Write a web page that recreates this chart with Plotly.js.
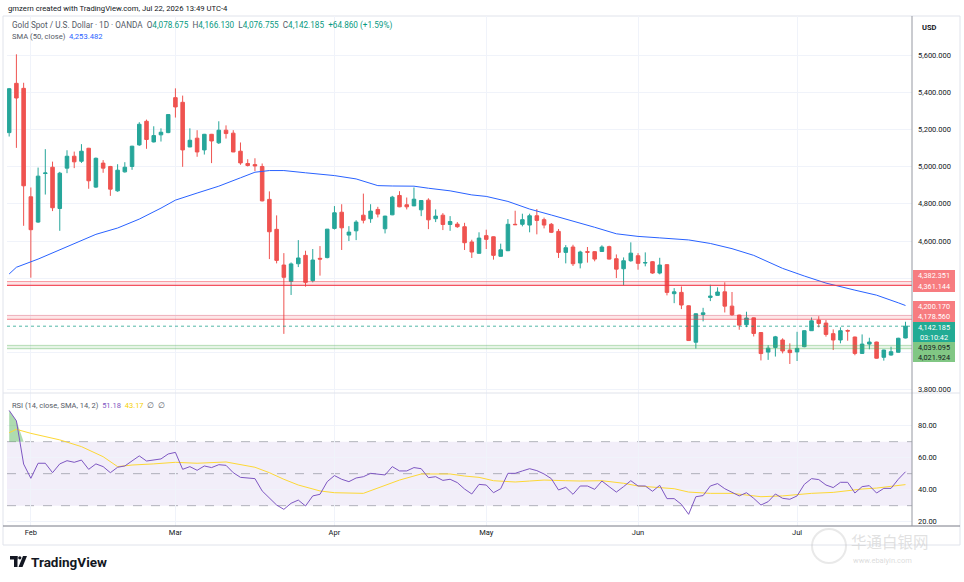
<!DOCTYPE html>
<html>
<head>
<meta charset="utf-8">
<script src="https://cdn.plot.ly/plotly-3.0.1.min.js"></script>
<style>html,body{margin:0;padding:0;background:#fff;}#chart{width:964px;height:582px;}</style>
</head>
<body>
<div id="chart"></div>
<script>
// ---------- DATA ----------
const dates = [
'2026-01-28','2026-01-29','2026-01-30',
'2026-02-02','2026-02-03','2026-02-04','2026-02-05','2026-02-06','2026-02-09','2026-02-10','2026-02-11','2026-02-12','2026-02-13',
'2026-02-16','2026-02-17','2026-02-18','2026-02-19','2026-02-20','2026-02-23','2026-02-24','2026-02-25','2026-02-26','2026-02-27',
'2026-03-02','2026-03-03','2026-03-04','2026-03-05','2026-03-06','2026-03-09','2026-03-10','2026-03-11','2026-03-12','2026-03-13',
'2026-03-16','2026-03-17','2026-03-18','2026-03-19','2026-03-20','2026-03-23','2026-03-24','2026-03-25','2026-03-26','2026-03-27',
'2026-03-30','2026-03-31',
'2026-04-01','2026-04-02','2026-04-06','2026-04-07','2026-04-08','2026-04-09','2026-04-10','2026-04-13','2026-04-14','2026-04-15',
'2026-04-16','2026-04-17','2026-04-20','2026-04-21','2026-04-22','2026-04-23','2026-04-24','2026-04-27','2026-04-28','2026-04-29','2026-04-30',
'2026-05-01','2026-05-04','2026-05-05','2026-05-06','2026-05-07','2026-05-08','2026-05-11','2026-05-12','2026-05-13','2026-05-14','2026-05-15',
'2026-05-18','2026-05-19','2026-05-20','2026-05-21','2026-05-22','2026-05-25','2026-05-26','2026-05-27','2026-05-28','2026-05-29',
'2026-06-01','2026-06-02','2026-06-03','2026-06-04','2026-06-05','2026-06-08','2026-06-09','2026-06-10','2026-06-11','2026-06-12',
'2026-06-15','2026-06-16','2026-06-17','2026-06-18','2026-06-19','2026-06-22','2026-06-23','2026-06-24','2026-06-25','2026-06-26',
'2026-06-29','2026-06-30',
'2026-07-01','2026-07-02','2026-07-03','2026-07-06','2026-07-07','2026-07-08','2026-07-09','2026-07-10','2026-07-13','2026-07-14',
'2026-07-15','2026-07-16','2026-07-17','2026-07-20','2026-07-21','2026-07-22'
];

const open = [
5183,5448,5421,4838,4702,4963,4997,4775,4992,5056,5029,5099,4890,5019,5001,4870,4972,5001,5117,5244,
5133,5171,5183,5371,5346,5106,5153,5090,5174,5128,5196,5180,5083,5017,5011,5001,4824,4663,4471,4383,
4478,4523,4387,4507,4511,4668,4755,4632,4655,4739,4720,4770,4666,4741,4845,4795,4789,4768,4820,4720,
4739,4689,4691,4677,4595,4534,4629,4623,4518,4548,4690,4690,4686,4736,4715,4690,4652,4539,4568,4482,
4543,4543,4544,4570,4505,4451,4494,4521,4482,4489,4428,4473,4317,4324,4252,4056,4205,4297,4308,4327,
4250,4202,4150,4187,4108,4003,4028,4068,4014,4004,4032,4118,4175,4159,4102,4068,4119,4084,3996,4046,
4057,3975,3987,4002,4078.675
];
const high = [
5423,5604,5451,4888,4995,5094,5027,4972,5088,5081,5121,5101,5049,5035,5004,5013,5024,5112,5239,5253,
5217,5206,5282,5421,5382,5206,5196,5176,5176,5244,5222,5196,5130,5040,5045,5017,4867,4738,4535,4485,
4605,4548,4557,4573,4665,4788,4798,4680,4712,4855,4798,4784,4736,4843,4868,4834,4888,4820,4830,4770,
4750,4734,4702,4698,4607,4647,4661,4625,4586,4718,4763,4747,4747,4772,4726,4697,4665,4578,4580,4548,
4568,4545,4577,4575,4528,4512,4593,4535,4539,4492,4510,4475,4347,4356,4254,4211,4241,4365,4351,4378,
4326,4204,4220,4189,4110,4040,4090,4077,4050,4112,4120,4189,4196,4175,4125,4136,4125,4086,4098,4080,
4059,4016,4032,4080,4166.130
];
const low = [
5162,5101,4682,4403,4698,4850,4761,4655,4965,4992,5020,4881,4886,4967,4843,4865,4968,4983,5112,5096,
5130,5135,5180,5264,4999,5105,5053,5065,5019,5122,5151,5078,5010,5001,4976,4813,4503,4480,4101,4310,
4460,4355,4378,4414,4507,4662,4552,4600,4605,4695,4698,4727,4641,4739,4782,4770,4788,4734,4664,4702,
4659,4655,4671,4552,4509,4533,4557,4500,4516,4546,4686,4679,4647,4636,4668,4643,4509,4480,4466,4453,
4484,4491,4543,4501,4401,4362,4489,4446,4464,4424,4421,4308,4266,4234,4063,4022,4168,4277,4307,4216,
4198,4123,4137,4087,3958,3961,3979,3996,3939,3955,4029,4117,4136,4086,4014,4050,4064,3986,3993,4018,
3968,3957,3984,4000,4076.755
];
const close = [
5419,5369,4897,4661,4949,4966,4779,4965,5056,5026,5083,4924,5045,4992,4879,4981,4997,5110,5228,5146,
5167,5185,5280,5321,5090,5142,5079,5174,5138,5196,5178,5079,5020,5006,5004,4816,4650,4496,4405,4477,
4509,4378,4498,4503,4664,4752,4671,4648,4702,4712,4761,4745,4734,4836,4784,4784,4825,4818,4714,4734,
4689,4705,4677,4591,4541,4616,4609,4523,4553,4690,4688,4715,4736,4711,4686,4647,4539,4564,4478,4541,
4540,4503,4568,4503,4449,4494,4535,4480,4484,4428,4471,4324,4327,4256,4065,4209,4214,4304,4326,4250,
4204,4148,4186,4103,3995,4024,4085,4009,4000,4023,4118,4171,4157,4098,4068,4118,4116,3996,4046,4057,
3970,4014,4005,4077.325,4142.185
];

// SMA(50) read at sample bars (bar index, value)
const smaIdx = [0,1,4,7,9,12,15,18,21,23,26,29,32,34,36,38,41,43,45,48,51,53,56,58,61,64,66,69,72,75,78,81,84,87,90,94,97,100,103,107,110,113,117,120,123,124];
const smaVal = [4423,4459,4503,4552,4584,4636,4670,4718,4777,4820,4858,4895,4940,4970,4979,4979,4967,4960,4952,4934,4898,4896,4895,4884,4870,4848,4840,4813,4772,4740,4708,4674,4639,4625,4617,4606,4587,4559,4523,4453,4412,4374,4336,4309,4268,4253.482];

// RSI(14) per bar
const rsi = [
89.5,83.0,56.0,47.1,56.5,56.5,50.6,56.1,58.1,57.1,58.5,52.7,56.1,54.4,50.6,54.0,54.8,57.9,61.1,57.9,
58.5,59.2,62.3,63.3,52.7,54.4,52.1,54.8,53.8,55.6,55.2,50.6,47.7,47.1,46.9,39.2,34.6,30.4,27.7,31.5,
33.5,29.8,36.1,37.1,45.0,48.8,46.5,45.0,47.3,48.1,50.2,49.8,49.2,54.4,51.7,51.7,53.8,53.1,47.5,48.1,
45.8,46.5,44.4,40.4,37.3,43.3,42.9,38.1,40.6,50.2,50.2,51.7,53.1,51.9,49.8,46.9,39.8,41.5,37.1,42.3,
42.3,40.2,45.4,41.9,38.5,41.9,45.6,42.3,42.3,39.0,42.7,34.4,34.4,30.8,24.6,35.6,36.3,42.3,43.8,40.6,
38.5,36.1,38.1,34.6,30.4,32.5,37.3,34.6,34.0,36.1,43.3,46.9,46.3,42.9,41.3,44.6,44.6,37.9,41.9,42.5,
37.9,40.8,40.8,46.5,51.18
];
// RSI-based SMA(14) read at sample bars
const rsiSmaIdx = [0,1,3,7,10,13,15,17,20,23,26,30,34,36,38,40,43,45,49,52,54,57,61,63,65,67,70,72,74,77,79,82,85,87,90,92,94,97,100,102,104,107,109,111,114,116,118,120,123,124];
const rsiSmaVal = [75.6,77.7,75.2,71.1,66.9,60.6,54.4,55.4,56.1,57.1,56.5,57.3,54.0,50.6,46.5,42.9,39.2,38.1,37.7,42.9,46.0,49.8,49.8,48.5,47.7,45.6,44.8,45.4,46.0,45.6,45.4,45.6,44.0,42.3,41.3,40.6,38.5,37.7,37.7,36.5,35.6,36.1,37.1,37.7,38.3,39.4,40.4,41.0,42.3,43.17];

const resistanceLevels = [4382.351, 4361.144, 4200.170, 4178.560];
const supportLevels = [4039.095, 4021.924];
const countdown = '03:10:42';
const priceTicks = [3800,4000,4200,4400,4600,4800,5000,5200,5400,5600];
// tick labels hidden behind the price-label boxes (as in the reference)
const priceTickLabels = ['3,800.000','','','','4,600.000','4,800.000','5,000.000','5,200.000','5,400.000','5,600.000'];
const rsiTicks = [20,40,60,80];
const rsiLevels = [70,50,30];
const monthTickDates = ['2026-02-02','2026-03-02','2026-04-01','2026-05-01','2026-06-01','2026-07-01'];
const monthTickText = ['Feb','Mar','Apr','May','Jun','Jul'];

// ---------- HELPERS ----------
const F = "Roboto, 'Liberation Sans', sans-serif";
const UP = '#26a69a', DN = '#ef5350', TEXT = '#131722';
const fmt3 = v => v.toLocaleString('en-US',{minimumFractionDigits:3,maximumFractionDigits:3});
const fmt2 = v => v.toLocaleString('en-US',{minimumFractionDigits:2,maximumFractionDigits:2});
const n = close.length;
const last = n - 1;
const chg = close[last] - close[last-1];
const pct = chg / close[last-1] * 100;
const px = p => (p - 7) / 905;          // pixel -> paper x
const py = p => (526 - p) / 510;        // pixel -> paper y

// ---------- TRACES ----------
const traces = [];
traces.push({
  type:'candlestick', x:dates, open:open, high:high, low:low, close:close,
  xaxis:'x', yaxis:'y', hoverinfo:'skip', whiskerwidth:0,
  increasing:{line:{color:UP,width:1}, fillcolor:UP},
  decreasing:{line:{color:DN,width:1}, fillcolor:DN}
});
traces.push({
  type:'scatter', mode:'lines', x:smaIdx.map(i=>dates[i]), y:smaVal,
  xaxis:'x', yaxis:'y', line:{color:'#2962ff', width:1}, hoverinfo:'skip'
});
const obN = 3;
traces.push({type:'scatter', mode:'lines', x:dates.slice(0,obN), y:dates.slice(0,obN).map(()=>70),
  xaxis:'x', yaxis:'y2', line:{width:0, color:'rgba(0,0,0,0)'}, hoverinfo:'skip'});
traces.push({type:'scatter', mode:'lines', x:dates.slice(0,obN), y:rsi.slice(0,obN).map(v=>Math.max(v,70)),
  xaxis:'x', yaxis:'y2', line:{width:0, color:'rgba(0,0,0,0)'}, fill:'tonexty',
  fillcolor:'rgba(76,175,80,0.45)', hoverinfo:'skip'});
traces.push({
  type:'scatter', mode:'lines', x:rsiSmaIdx.map(i=>dates[i]), y:rsiSmaVal,
  xaxis:'x', yaxis:'y2', line:{color:'#fdd835', width:1}, hoverinfo:'skip'
});
traces.push({
  type:'scatter', mode:'lines', x:dates, y:rsi,
  xaxis:'x', yaxis:'y2', line:{color:'#7e57c2', width:1}, hoverinfo:'skip'
});

// ---------- SHAPES ----------
const shapes = [];
function band(lo, hi, fill, lineLo, lineHi){
  shapes.push({type:'rect', xref:'paper', yref:'y', x0:0, x1:1, y0:lo, y1:hi, fillcolor:fill, line:{width:0}, layer:'above'});
  shapes.push({type:'line', xref:'paper', yref:'y', x0:0, x1:1, y0:hi, y1:hi, line:{color:lineHi, width:1}, layer:'above'});
  shapes.push({type:'line', xref:'paper', yref:'y', x0:0, x1:1, y0:lo, y1:lo, line:{color:lineLo, width:1.2}, layer:'above'});
}
band(resistanceLevels[1], resistanceLevels[0], 'rgba(242,54,69,0.13)', 'rgba(242,54,69,0.85)', 'rgba(242,54,69,0.45)');
band(resistanceLevels[3], resistanceLevels[2], 'rgba(242,54,69,0.12)', 'rgba(242,54,69,0.45)', 'rgba(242,54,69,0.3)');
band(supportLevels[1], supportLevels[0], 'rgba(76,175,80,0.14)', 'rgba(76,175,80,0.35)', 'rgba(76,175,80,0.35)');
shapes.push({type:'line', xref:'paper', yref:'y', x0:0, x1:1, y0:close[last], y1:close[last], line:{color:'rgba(8,153,129,0.7)', width:1, dash:'dot'}, layer:'above'});
shapes.push({type:'rect', xref:'paper', yref:'y2', x0:0, x1:1, y0:rsiLevels[2], y1:rsiLevels[0], fillcolor:'rgba(126,87,194,0.10)', line:{width:0}, layer:'below'});
rsiLevels.forEach(l => shapes.push({type:'line', xref:'paper', yref:'y2', x0:0, x1:1, y0:l, y1:l,
  line:{color:'rgba(120,123,134,0.55)', width:1, dash:'dash'}, layer:'below'}));
shapes.push({type:'rect', xref:'paper', yref:'paper', x0:px(3), x1:px(960), y0:py(545), y1:py(16), line:{color:'#e0e3eb', width:1}, fillcolor:'rgba(0,0,0,0)', layer:'below'});
shapes.push({type:'line', xref:'paper', yref:'paper', x0:px(3), x1:px(960), y0:py(393), y1:py(393), line:{color:'#e0e3eb', width:1}});
shapes.push({type:'line', xref:'paper', yref:'paper', x0:px(3), x1:px(960), y0:py(526), y1:py(526), line:{color:'#787b86', width:1}});
shapes.push({type:'line', xref:'paper', yref:'paper', x0:px(912), x1:px(912), y0:py(526), y1:py(16), line:{color:'#9598a1', width:1}});
shapes.push({type:'rect', xref:'paper', yref:'paper', x0:px(10), x1:px(17.5), y0:py(559.5), y1:py(556), fillcolor:TEXT, line:{width:0}});
shapes.push({type:'rect', xref:'paper', yref:'paper', x0:px(14), x1:px(17.5), y0:py(567), y1:py(556), fillcolor:TEXT, line:{width:0}});
shapes.push({type:'circle', xref:'paper', yref:'paper', x0:px(18.2), x1:px(21.4), y0:py(559.4), y1:py(556.2), fillcolor:TEXT, line:{width:0}});
shapes.push({type:'path', xref:'paper', yref:'paper', fillcolor:TEXT, line:{width:0},
  path:`M ${px(23)} ${py(556)} L ${px(27)} ${py(556)} L ${px(22.5)} ${py(567)} L ${px(18.5)} ${py(567)} Z`});
shapes.push({type:'circle', xref:'paper', yref:'paper', x0:px(812), x1:px(846), y0:py(563), y1:py(529), line:{color:'rgba(200,200,200,0.4)', width:2}, fillcolor:'rgba(0,0,0,0)'});

// ---------- ANNOTATIONS ----------
const ann = [];
function txt(text, x, y, size, color, family){
  ann.push({text:text, xref:'paper', yref:'paper', x:x, y:y, xanchor:'left', yanchor:'middle',
    showarrow:false, font:{family:family||F, size:size, color:color}});
}
const tl = c => s => `<span style="color:${c}">${s}</span>`;
const teal = tl('#089981');
txt('gmzern created with TradingView.com, Jul 22, 2026 13:49 UTC-4', px(6), py(8), 7.7, TEXT);
txt(`Gold Spot / U.S. Dollar · 1D · OANDA  O${teal(fmt3(open[last]))}  H${teal(fmt3(high[last]))}  L${teal(fmt3(low[last]))}  C${teal(fmt3(close[last]))}  ${teal((chg>=0?'+':'')+fmt3(chg)+' ('+(pct>=0?'+':'')+fmt2(pct)+'%)')}`,
  px(10), py(25), 8.2, '#555a66');
txt(`SMA (50, close)  ${tl('#2962ff')(fmt3(smaVal[smaVal.length-1]))}`, px(10), py(37), 7.6, '#555a66');
txt(`RSI (14, close, SMA, 14, 2)  ${tl('#7e57c2')(fmt2(rsi[last]))}  ${tl('#f5d000')(fmt2(rsiSmaVal[rsiSmaVal.length-1]))}  ∅  ∅`, px(10), py(405), 7.5, '#555a66');
txt('<b>USD</b>', px(920), py(27), 7.5, TEXT);
txt('<b>TradingView</b>', px(29), py(562), 13.5, TEXT);
txt('华通白银网', px(849), py(541), 15.5, 'rgba(195,195,195,0.5)', "'Noto Sans CJK SC', sans-serif");
txt('www.ebaiyin.com', px(851), py(560), 7.5, 'rgba(190,190,190,0.55)');

function label(text, yPix, h, bg, fg){
  ann.push({text:text, xref:'paper', yref:'paper', x:px(913), y:py(yPix), xanchor:'left', yanchor:'middle',
    showarrow:false, bgcolor:bg, borderpad:0, borderwidth:0, width:42, height:h, align:'center',
    font:{family:F, size:7.3, color:fg}});
}
label(fmt3(resistanceLevels[0]), 275.5, 11, '#f77c80', '#ffffff');
label(fmt3(resistanceLevels[1]), 286.5, 11, '#f77c80', '#ffffff');
label(fmt3(resistanceLevels[2]), 306.3, 10.5, '#f77c80', '#ffffff');
label(fmt3(resistanceLevels[3]), 316.8, 10.5, '#f77c80', '#ffffff');
label(fmt3(close[last]), 327, 10, '#22ab94', '#ffffff');
label(countdown, 337, 10, '#22ab94', '#ffffff');
label(fmt3(supportLevels[0]), 347, 10, '#81c784', TEXT);
label(fmt3(supportLevels[1]), 357, 10, '#81c784', TEXT);

// ---------- LAYOUT ----------
const layout = {
  width:964, height:582, margin:{l:7, r:52, t:16, b:56},
  paper_bgcolor:'#ffffff', plot_bgcolor:'rgba(0,0,0,0)', showlegend:false,
  font:{family:F, size:7.5, color:TEXT},
  xaxis:{type:'category', categoryorder:'array', categoryarray:dates, range:[-0.3, 124.9],
    anchor:'y2', rangeslider:{visible:false}, tickvals:monthTickDates, ticktext:monthTickText,
    showgrid:true, gridcolor:'#f0f3fa', ticks:'', showline:false, zeroline:false,
    tickfont:{family:F, size:7.5, color:TEXT}, fixedrange:true},
  yaxis:{domain:[py(393), 1], side:'right', range:[3783, 5810], tickvals:priceTicks, ticktext:priceTickLabels,
    showgrid:true, gridcolor:'#f0f3fa', ticks:'', showline:false, zeroline:false, ticklabelstandoff:5,
    tickfont:{family:F, size:7.5, color:TEXT}, fixedrange:true},
  yaxis2:{domain:[0, py(393)], side:'right', range:[17.3, 100.4], tickvals:rsiTicks, tickformat:'.2f',
    showgrid:true, gridcolor:'#f0f3fa', ticks:'', showline:false, zeroline:false, ticklabelstandoff:5,
    tickfont:{family:F, size:7.5, color:TEXT}, fixedrange:true},
  shapes:shapes, annotations:ann
};

Plotly.newPlot('chart', traces, layout, {staticPlot:true, displayModeBar:false});
</script>
</body>
</html>
